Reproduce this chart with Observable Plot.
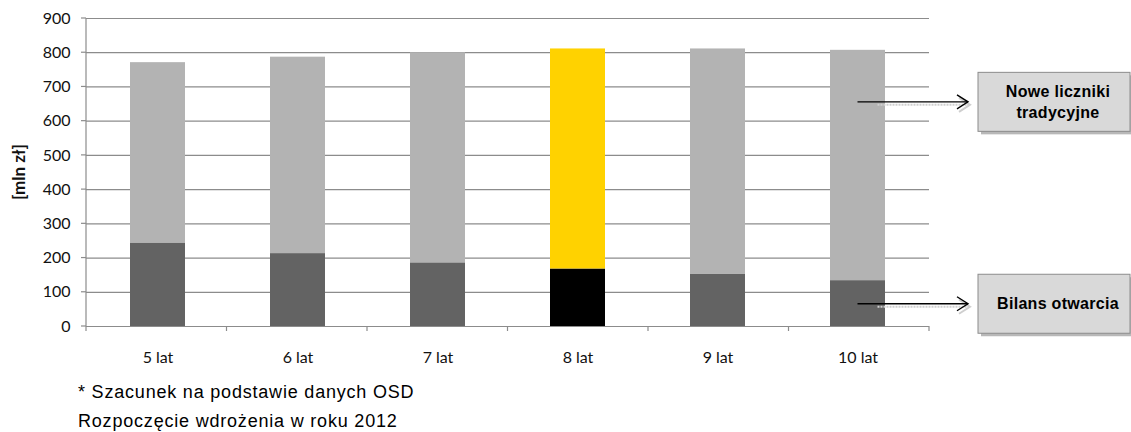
<!DOCTYPE html>
<html>
<head>
<meta charset="utf-8">
<script src="https://cdn.jsdelivr.net/npm/d3@7"></script>
<script src="https://cdn.jsdelivr.net/npm/@observablehq/plot@0.6"></script>
<style>
  html, body { margin: 0; padding: 0; background: #fff; }
  #chart { position: relative; width: 1131px; }
  #notes { font-family: "Liberation Sans", Arial, sans-serif; font-size: 18px; line-height: 29px;
           letter-spacing: 0.8px; color: #000; padding-left: 78px; padding-top: 6px; }
</style>
</head>
<body>
<div id="chart"></div>
<div id="notes">
  <div>* Szacunek na podstawie danych OSD</div>
  <div>Rozpoczęcie wdrożenia w roku 2012</div>
</div>
<script>
// ---- data ----
const categories = ["5 lat", "6 lat", "7 lat", "8 lat", "9 lat", "10 lat"];
const bilansOtwarcia = [244, 213, 186, 168, 152, 134];          // bottom segment
const noweLiczniki = [527, 574, 614, 643, 659, 673];            // top segment
const seriesNames = ["Bilans otwarcia", "Nowe liczniki tradycyjne"];
const yTicks = [0, 100, 200, 300, 400, 500, 600, 700, 800, 900];
const highlighted = "8 lat";
const yLabel = "[mln zł]";
// annotations: label lines and the value (on the last bar) the arrow starts from
const annotationLabels = [["Nowe liczniki", "tradycyjne"], ["Bilans otwarcia"]];
const annotationValues = [655, 65];

// ---- build table ----
const rows = [];
categories.forEach((c, i) => {
  rows.push({cat: c, series: seriesNames[0], value: bilansOtwarcia[i]});
  rows.push({cat: c, series: seriesNames[1], value: noweLiczniki[i]});
});
const colorOf = d => {
  if (d.cat === highlighted) return d.series === seriesNames[0] ? "#000000" : "#ffd200";
  return d.series === seriesNames[0] ? "#636363" : "#b3b3b3";
};

const gridColor = "#8c8c8c";
const plot = Plot.plot({
  width: 1131,
  height: 372,
  marginLeft: 86,
  marginRight: 202,
  marginTop: 18,
  marginBottom: 46,
  style: {fontFamily: "Lato, sans-serif", fontSize: "16px", color: "#111", background: "#fff"},
  x: {domain: categories, paddingInner: 0.61, paddingOuter: 0.305, tickSize: 0, tickPadding: 25, label: null},
  y: {domain: [0, 900], ticks: yTicks, tickSize: 0, tickPadding: 16, label: null},
  color: {type: "identity"},
  marks: [
    Plot.ruleY(yTicks, {stroke: gridColor, strokeWidth: 1.2}),
    Plot.barY(rows, Plot.stackY({x: "cat", y: "value", fill: colorOf}))
  ]
});
document.getElementById("chart").appendChild(plot);

// ---- overlay drawn from the plot's own scales ----
const xs = plot.scale("x"), ys = plot.scale("y");
const [xr0, xr1] = xs.range;
const y0 = ys.apply(0), yTop = ys.apply(yTicks[yTicks.length - 1]);
const svg = d3.select(plot);
const g = svg.append("g");

// y axis line and ticks
g.append("line").attr("x1", xr0).attr("x2", xr0).attr("y1", yTop).attr("y2", y0)
  .attr("stroke", gridColor).attr("stroke-width", 1.2);
yTicks.forEach(t => {
  g.append("line").attr("x1", xr0 - 5).attr("x2", xr0).attr("y1", ys.apply(t)).attr("y2", ys.apply(t))
    .attr("stroke", gridColor).attr("stroke-width", 1.2);
});
// x ticks at category boundaries
const step = (xr1 - xr0) / categories.length;
for (let i = 0; i <= categories.length; i++) {
  const x = xr0 + i * step;
  g.append("line").attr("x1", x).attr("x2", x).attr("y1", y0).attr("y2", y0 + 5)
    .attr("stroke", gridColor).attr("stroke-width", 1.2);
}
// y label
g.append("text").attr("transform", `translate(18,${(yTop + y0) / 2}) rotate(-90)`)
  .attr("text-anchor", "middle").attr("dominant-baseline", "central")
  .attr("font-family", "Lato, sans-serif").attr("font-size", 17).attr("font-weight", "bold")
  .attr("fill", "#111").text(yLabel);

// arrows + boxes
const lastCat = categories[categories.length - 1];
const ax0 = xs.apply(lastCat) + xs.bandwidth / 2;
const ax1 = xr1 + 39;
const bx0 = xr1 + 49, bx1 = 1130;
annotationLabels.forEach((lines, i) => {
  const y = ys.apply(annotationValues[i]);
  // arrow shadow
  g.append("line").attr("x1", ax0 + 20).attr("x2", ax1 + 2).attr("y1", y + 3).attr("y2", y + 3)
    .attr("stroke", "#cfcfcf").attr("stroke-width", 2).attr("stroke-dasharray", "2,1");
  g.append("path").attr("d", `M${ax1 - 9},${y - 4} L${ax1 + 2},${y + 3} L${ax1 - 9},${y + 10}`)
    .attr("fill", "none").attr("stroke", "#cfcfcf").attr("stroke-width", 2);
  // arrow
  g.append("line").attr("x1", ax0).attr("x2", ax1).attr("y1", y).attr("y2", y)
    .attr("stroke", "#000").attr("stroke-width", 1.4);
  g.append("path").attr("d", `M${ax1 - 11},${y - 7} L${ax1},${y} L${ax1 - 11},${y + 7}`)
    .attr("fill", "none").attr("stroke", "#000").attr("stroke-width", 1.4);
  // box
  const h = 59;
  g.append("rect").attr("x", bx0 + 3).attr("y", y - h / 2 + 3).attr("width", bx1 - bx0).attr("height", h)
    .attr("fill", "#b8b8b8");
  g.append("rect").attr("x", bx0).attr("y", y - h / 2).attr("width", bx1 - bx0).attr("height", h)
    .attr("fill", "#d9d9d9").attr("stroke", "#8c8c8c").attr("stroke-width", 1);
  const cx = (bx0 + bx1) / 2 + 4;
  const lh = 21;
  lines.forEach((ln, j) => {
    g.append("text").attr("x", cx).attr("y", y + (j - (lines.length - 1) / 2) * lh)
      .attr("text-anchor", "middle").attr("dominant-baseline", "central")
      .attr("font-family", "'Liberation Sans', Arial, sans-serif").attr("font-size", 16)
      .attr("font-weight", "bold").attr("letter-spacing", "0.3px").attr("fill", "#000").text(ln);
  });
});
</script>
</body>
</html>
